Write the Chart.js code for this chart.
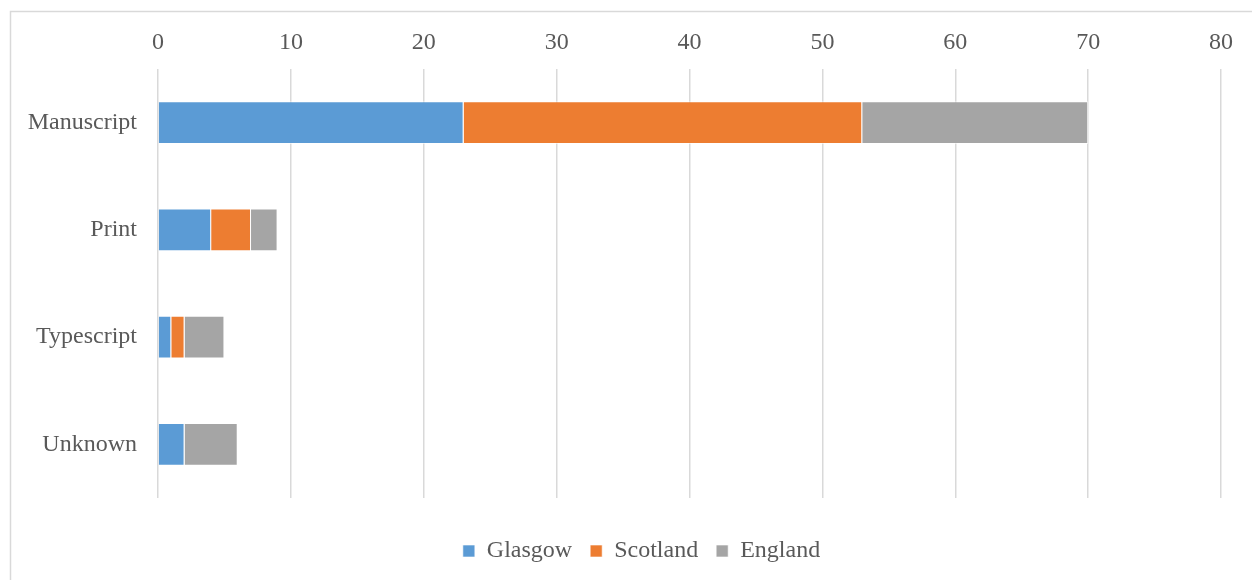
<!DOCTYPE html>
<html>
<head>
<meta charset="utf-8">
<script src="https://cdn.jsdelivr.net/npm/chart.js@4/dist/chart.umd.min.js"></script>
<style>
  html, body { margin: 0; padding: 0; background: #fff; }
  #wrap { position: relative; width: 1252px; height: 580px; }
</style>
</head>
<body>
<div id="wrap"><canvas id="myChart" width="1252" height="580"></canvas></div>
<script>
var categories = ["Manuscript", "Print", "Typescript", "Unknown"];
var glasgow = [23, 4, 1, 2];
var scotland = [30, 3, 1, 0];
var england = [17, 2, 3, 4];
var xTicks = [0, 10, 20, 30, 40, 50, 60, 70, 80];

var textColor = "#595959";
var gridColor = "#d9d9d9";

// light grey frame around the chart (left and top edges show)
var framePlugin = {
  id: "frame",
  beforeDraw: function (chart) {
    var ctx = chart.ctx;
    ctx.save();
    ctx.fillStyle = "#fff";
    ctx.fillRect(0, 0, chart.width, chart.height);
    ctx.strokeStyle = gridColor;
    ctx.lineWidth = 1.5;
    ctx.strokeRect(10.5, 11.5, 1300, 700);
    ctx.restore();
  },
  // centre the legend on the whole frame rather than the plot width
  afterLayout: function (chart) {
    chart.legend.left += 31;
    chart.legend.right += 31;
  }
};

Chart.defaults.font.family = "'Liberation Serif', 'Times New Roman', serif";
Chart.defaults.font.size = 24;
Chart.defaults.color = textColor;

new Chart("myChart", {
  type: "bar",
  data: {
    labels: categories,
    datasets: [
      { label: "Glasgow", data: glasgow, backgroundColor: "#5b9bd5" },
      { label: "Scotland", data: scotland, backgroundColor: "#ed7d31" },
      { label: "England", data: england, backgroundColor: "#a5a5a5" }
    ].map(function (d) {
      d.borderColor = "rgba(255,255,255,0.6)";
      d.borderWidth = 1;
      d.barPercentage = 0.4;
      d.categoryPercentage = 1;
      return d;
    })
  },
  options: {
    indexAxis: "y",
    responsive: false,
    animation: false,
    layout: { padding: { left: 0, right: 31, top: 0, bottom: 7 } },
    plugins: {
      tooltip: { enabled: false },
      legend: {
        position: "bottom",
        title: { display: true, text: "", font: { size: 10 }, padding: { top: 11, bottom: 0 } },
        labels: {
          boxWidth: 12,
          boxHeight: 12,
          padding: 18,
          color: textColor,
          font: { size: 24 }
        }
      }
    },
    scales: {
      x: {
        position: "top",
        stacked: true,
        min: 0,
        max: 80,
        afterBuildTicks: function (scale) {
          scale.ticks = xTicks.map(function (v) { return { value: v }; });
        },
        afterFit: function (scale) { scale.height = 69; },
        grid: { color: gridColor, lineWidth: 1.5, drawTicks: false },
        border: { display: false },
        ticks: { padding: 12, color: textColor }
      },
      y: {
        stacked: true,
        afterFit: function (scale) { scale.width = 158; },
        grid: { display: false, drawTicks: false },
        border: { display: false },
        ticks: { padding: 21, color: textColor }
      }
    }
  },
  plugins: [framePlugin]
});
</script>
</body>
</html>
